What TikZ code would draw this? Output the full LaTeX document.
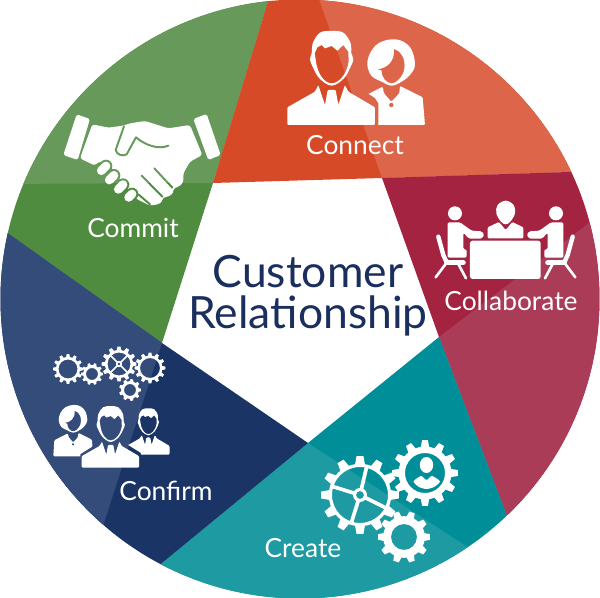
\documentclass[tikz,border=0pt]{standalone}
\usepackage{fontspec}
\setmainfont{Lato}
\definecolor{redbase}{HTML}{D64A27}
\definecolor{redlight}{HTML}{DD6549}
\definecolor{crimsonbase}{HTML}{A32341}
\definecolor{crimsonlight}{HTML}{AA3C58}
\definecolor{tealbase}{HTML}{008F99}
\definecolor{teallight}{HTML}{1E9AA2}
\definecolor{navybase}{HTML}{1B3466}
\definecolor{navylight}{HTML}{344C7A}
\definecolor{greenbase}{HTML}{4F8C3F}
\definecolor{greenlight}{HTML}{66995A}
\definecolor{titleblue}{HTML}{1B2F5E}
\tikzset{
  steplabel/.style={text=white,inner sep=0pt,font=\fontsize{15}{16}\selectfont},
  titlelabel/.style={text=titleblue,inner sep=0pt,align=center,font=\fontsize{25.3}{23.4}\selectfont},
  chairpart/.style={white,line cap=round,line join=round},
  manfigure/.pic={
    \fill[white,even odd rule]
      plot[smooth cycle,tension=0.6] coordinates {(155,33) (120,38) (98,70) (95,100) (90,118) (98,140) (118,175) (155,197) (192,175) (212,140) (220,118) (214,100) (212,70) (190,38)}
      (107,118) -- (104,100) -- (112,82) -- (125,75) -- (135,85) -- (155,78) -- (172,92) -- (190,75) -- (205,95) -- (206,125) .. controls (200,165) and (175,190) .. (155,190) .. controls (135,190) and (112,165) .. (107,118) -- cycle;
    \fill[white,rounded corners=0.6pt] (22,315) -- (22,262) -- (105,215) -- (115,195) -- (135,255) -- (143,210) -- (167,210) -- (175,255) -- (195,195) -- (205,215) -- (285,262) -- (285,315) -- cycle;
  },
  womanfigure/.pic={
    \fill[white,even odd rule]
      plot[smooth cycle,tension=0.6] coordinates {(455,118) (415,130) (390,160) (382,195) (395,228) (425,245) (455,257) (485,245) (510,225) (525,195) (515,150) (490,125)}
      (412,208) .. controls (440,205) and (465,185) .. (462,147) .. controls (490,155) and (500,190) .. (490,218) .. controls (480,240) and (465,250) .. (455,250) .. controls (440,250) and (425,235) .. (425,212) -- cycle;
    \fill[white,even odd rule,rounded corners=0.6pt] (355,375) -- (360,295) -- (428,260) -- (432,280) -- (454,305) -- (478,280) -- (480,258) -- (548,292) -- (555,375) -- cycle (454,315) circle (7);
  },
  sitterfigure/.pic={
    \fill[white] (90,70) circle (21);
    \fill[white,rounded corners=0.8pt] (68,97) -- (105,97) -- (140,122) -- (170,124) -- (178,134) -- (170,146) -- (132,146) -- (115,128) -- (115,178) -- (125,178) -- (125,203) -- (68,203) -- cycle;
    \draw[chairpart,line width=2.5pt] (40,140) -- (55,195) -- (65,217);
    \draw[chairpart,line width=2.8pt] (65,218) -- (115,218);
    \draw[chairpart,line width=1.5pt] (62,222) -- (32,262);
    \draw[chairpart,line width=1.5pt] (100,222) -- (123,265);
  }
}
\newcommand{\gearwheel}[5]{%
  \begin{scope}[shift={(#1,#2)}]
    \fill[white,even odd rule] ({360/#4-360/#4*0.3}:{#3*0.8})
      \foreach \i in {1,...,#4} {
        -- ({\i*360/#4-360/#4*0.3}:{#3*0.8}) -- ({\i*360/#4-360/#4*0.17}:#3)
        -- ({\i*360/#4+360/#4*0.17}:#3) -- ({\i*360/#4+360/#4*0.3}:{#3*0.8})
        -- ({\i*360/#4+360/#4*0.5}:{#3*0.8})
      } -- cycle (0,0) circle (#5);
  \end{scope}}
\newcommand{\handdetail}[1]{%
  \draw[#1,line width=1.1pt,line cap=round,line join=round] (207,64) -- (182,135) .. controls (185,150) and (205,155) .. (215,148) -- (243,97) .. controls (270,120) and (310,135) .. (340,122);
  \draw[#1,line width=1.1pt,line cap=round] (298,190) -- (352,248);
  \draw[#1,line width=1.1pt,line cap=round] (260,212) -- (322,275);
  \draw[#1,line width=1.1pt,line cap=round] (250,268) -- (285,298);
  \foreach \xa/\ya/\xb/\yb in {139/197/153/183,163/225/177/211,190/253/204/239,221/277/231/267}
    \draw[#1,line width=7.2pt,line cap=round] (\xa,\ya) -- (\xb,\yb);}
\begin{document}
\begin{tikzpicture}[x=0.02cm,y=-0.02cm]
  \useasboundingbox (0,0) rectangle (600,598);
  % wheel
  \begin{scope}
    \clip (300,299) circle (299.5);
    \fill[greenbase] (213,183) -- (273,-15) -- (-15,-15) -- (-15,217) -- (162,343) -- cycle;
    \fill[greenlight] (213,183) -- (273,-15) -- (-15,-15) -- (-15,184) -- cycle;
    \fill[redbase] (213,183) -- (273,-15) -- (600,-15) -- (600,171) -- (382,178) -- cycle;
    \fill[redlight] (382,178) -- (314,-15) -- (600,-15) -- (600,171) -- cycle;
    \fill[crimsonbase] (382,178) -- (600,171) -- (640,170) -- (640,600) -- (515,537) -- (439,337) -- cycle;
    \fill[crimsonlight] (439,337) -- (610,207) -- (640,400) -- (640,600) -- (515,537) -- cycle;
    \fill[tealbase] (439,337) -- (515,537) -- (515,620) -- (140,620) -- (140,581) -- (308,443) -- cycle;
    \fill[teallight] (308,443) -- (498,567) -- (498,620) -- (140,620) -- (140,581) -- cycle;
    \fill[navybase] (162,343) -- (-15,217) -- (-15,600) -- (140,581) -- (308,443) -- cycle;
    \fill[navylight] (162,343) -- (-15,217) -- (-15,600) -- (95,551) -- cycle;
  \end{scope}
  % connect
  \pic[scale=1/3] at (280,20) {manfigure};
  \begin{scope}
    \clip (365,30) -- (430,30) -- (430,126) -- (378.3,126) -- (378.3,103) -- (375,98) -- (361,89) -- cycle;
    \pic[scale=1/3] at (240,0) {womanfigure};
  \end{scope}
  % commit
  \begin{scope}[shift={(55,105)},scale=1/3]
    \fill[white,rounded corners=1pt] (65,28) -- (105,42) -- (68,165) -- (25,150) -- cycle;
    \fill[white,rounded corners=1pt] (415,42) -- (455,27) -- (497,150) -- (460,165) -- cycle;
    \fill[white,rounded corners=1.5pt] (112,58) -- (160,68) -- (205,62) -- (225,55) -- (270,48) -- (340,70) -- (405,60) -- (442,150) -- (405,170) -- (385,205) -- (385,232) -- (372,245) -- (355,250) -- (355,265) -- (340,275) -- (322,278) -- (322,290) -- (310,298) -- (285,302) -- (245,282) -- (200,230) -- (160,175) -- (130,170) -- (120,182) -- (75,160) -- cycle;
    \begin{scope}
      \clip (0,0) rectangle (525,237);
      \handdetail{greenlight}
    \end{scope}
    \begin{scope}
      \clip (0,237) rectangle (525,315);
      \handdetail{greenbase}
    \end{scope}
    \foreach \xa/\ya/\xb/\yb in {139/197/153/183,163/225/177/211,190/253/204/239,221/277/231/267}
      \draw[white,line width=5pt,line cap=round] (\xa,\ya) -- (\xb,\yb);
  \end{scope}
  % collaborate
  \begin{scope}[shift={(425,190)},scale=1/3]
    \fill[white,rounded corners=1.5pt] (135,152) rectangle (347,267);
    \fill[white] plot[smooth cycle,tension=0.6] coordinates {(242,32) (218,45) (214,70) (228,95) (242,103) (256,95) (270,70) (266,45)};
    \fill[white,rounded corners=0.6pt] (188,145) -- (188,112) -- (222,96) -- (242,120) -- (262,96) -- (295,112) -- (295,145) -- cycle;
  \end{scope}
  \pic[scale=1/3] at (425,190) {sitterfigure};
  \pic[xscale=-1/3,yscale=1/3] at (586,190) {sitterfigure};
  % create
  \gearwheel{360}{495}{39}{12}{28}
  \begin{scope}[shift={(360,495)}]
    \foreach \a in {-76.7,-162.7,26.5,107.3}
      \draw[white,line width=2.1pt] (\a:5) -- (\a:30);
    \fill[white,even odd rule] (0,0) circle (7) (0,0) circle (4);
  \end{scope}
  \gearwheel{425}{473}{33}{12}{20}
  \fill[white] (426.5,465) ellipse (6.7 and 8);
  \fill[white] plot[smooth cycle,tension=0.4] coordinates {(413.5,481.5) (421,476) (426.5,480) (432,476) (440,481.5) (434,487) (426.5,489) (419,487)};
  \gearwheel{404}{537}{26}{10}{13}
  % confirm
  \gearwheel{68}{369}{15}{12}{9.5}
  \gearwheel{92}{374}{11}{10}{6}
  \gearwheel{119}{364}{17.5}{12}{11.5}
  \begin{scope}[shift={(119,364)}]
    \foreach \a in {45,135,225,315}
      \draw[white,line width=1pt] (\a:2.5) -- (\a:12);
    \fill[white,even odd rule] (0,0) circle (3.2) (0,0) circle (1.6);
  \end{scope}
  \gearwheel{150}{368}{15.5}{12}{10}
  \gearwheel{130}{390}{11}{9}{6}
  \pic[scale=0.218] at (76.9,399) {manfigure};
  \begin{scope}
    \clip (125,395) -- (190,395) -- (190,470) -- (141,470) -- (141,453) -- (125,443) -- cycle;
    \pic[scale=0.164] at (122.9,403) {manfigure};
  \end{scope}
  \begin{scope}
    \clip (20,395) -- (98,395) -- (98,443) -- (80.5,454) -- (80.5,470) -- (20,470) -- cycle;
    \pic[scale=0.2] at (-17.7,381.3) {womanfigure};
  \end{scope}
  % labels
  \node[steplabel] (connect) at (355,145) {Connect};
  \node[steplabel] (collaborate) at (511,301) {Collaborate};
  \node[steplabel] (create) at (303,548) {Create};
  \node[steplabel] (confirm) at (166,491) {Confirm};
  \node[steplabel] (commit) at (133,228) {Commit};
  \node[titlelabel] (title) at (308,296) {Customer\\Relationship};
\end{tikzpicture}
\end{document}
